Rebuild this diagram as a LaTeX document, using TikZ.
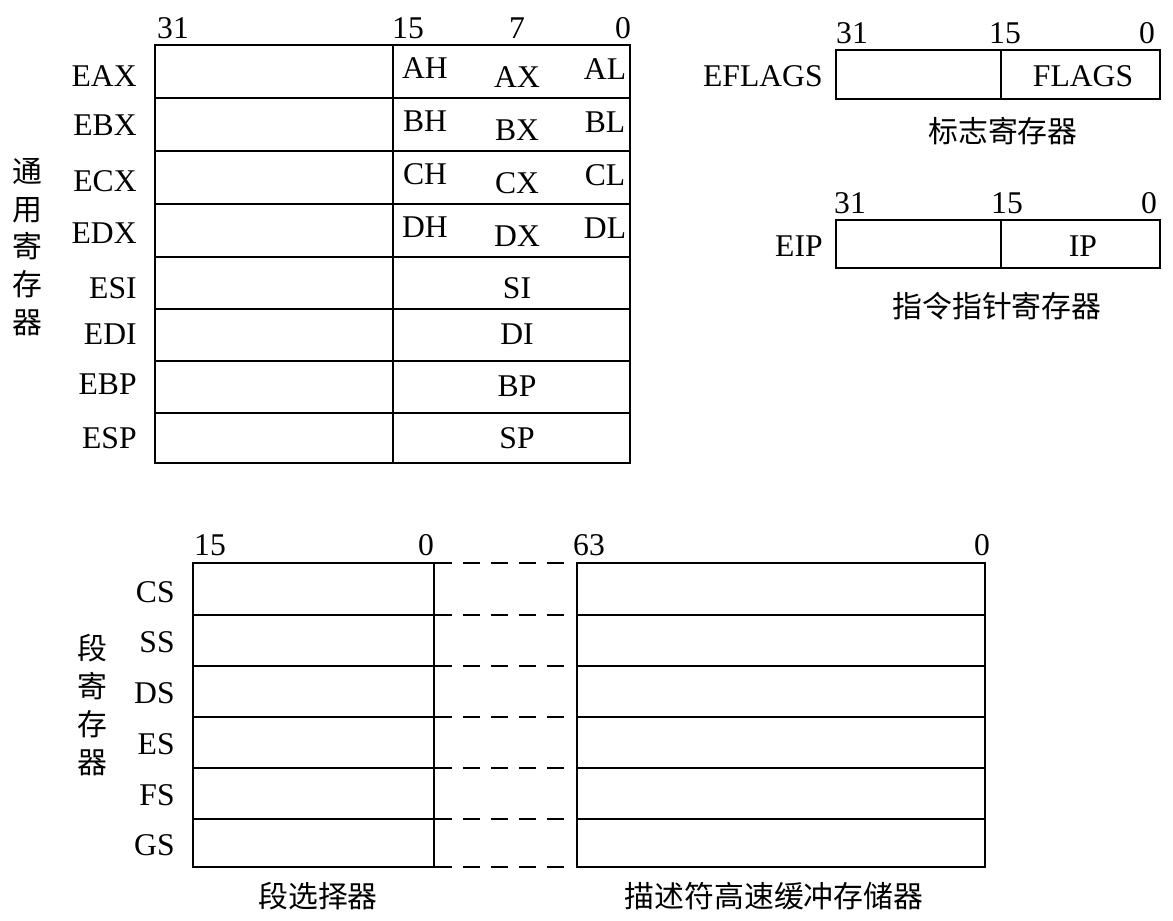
\documentclass[tikz,border=0pt]{standalone}
\usepackage{fontspec}
\setmainfont{Liberation Serif}
\newfontfamily\cjk{Noto Sans CJK SC}
\usetikzlibrary{positioning}

\tikzset{
  regbox/.style={line width=1.6pt},
  regline/.style={line width=1.2pt},
  dashlink/.style={line width=1pt, dash pattern=on 9.7pt off 6.3pt},
  bitnum/.style={inner sep=0pt},
  regname/.style={anchor=east, inner sep=0pt},
  cnlabel/.style={font=\cjk\fontsize{17}{21.5}\selectfont, inner sep=0pt, align=center},
}

\begin{document}
\begin{tikzpicture}[x=0.02cm, y=-0.02cm, font=\fontsize{18}{21}\selectfont]
    \useasboundingbox (0,0) rectangle (1173,920);

    % General registers
    \draw[regbox] (155,45) rectangle (630,463);
    \draw[regline] (393,45) -- (393,463);
    \foreach \y in {98,151,204,257,309,361,413}
        \draw[regline] (155,\y) -- (630,\y);

    \node[bitnum] (g31) at (173,28) {31};
    \node[bitnum] (g15) at (408,28) {15};
    \node[bitnum] (g7)  at (517,28) {7};
    \node[bitnum] (g0)  at (623,28) {0};

    \foreach \name/\y in {EAX/76,EBX/125,ECX/181,EDX/233,ESI/288,EDI/334,EBP/384,ESP/438}
        \node[regname] (r\name) at (137,\y) {\name};

    % 8-bit and 16-bit parts
    \foreach \h/\x/\l/\y in {AH/AX/AL/71, BH/BX/BL/124, CH/CX/CL/177, DH/DX/DL/230} {
        \node[bitnum] (p\h) at (425,\y-3) {\h};
        \node[bitnum] (p\x) at (517,\y+6) {\x};
        \node[bitnum] (p\l) at (605,\y-2) {\l};
    }
    \foreach \name/\y in {SI/288,DI/334,BP/386,SP/438}
        \node[bitnum] (p\name) at (517,\y) {\name};

    \node[cnlabel] (gentitle) at (27,247) {通\\用\\寄\\存\\器};

    % Flags register
    \draw[regbox] (836,50) rectangle (1160,99);
    \draw[regline] (1001,50) -- (1001,99);
    \node[bitnum] (f31) at (852,33) {31};
    \node[bitnum] (f15) at (1005,33) {15};
    \node[bitnum] (f0)  at (1147,33) {0};
    \node[regname] (rEFLAGS) at (823,76) {EFLAGS};
    \node[bitnum] (pFLAGS) at (1083,76) {FLAGS};
    \node[cnlabel] (flagtitle) at (1003,131) {标志寄存器};

    % Instruction pointer
    \draw[regbox] (836,220) rectangle (1160,268);
    \draw[regline] (1001,220) -- (1001,268);
    \node[bitnum] (i31) at (850,203) {31};
    \node[bitnum] (i15) at (1007,203) {15};
    \node[bitnum] (i0)  at (1149,203) {0};
    \node[regname] (rEIP) at (823,246) {EIP};
    \node[bitnum] (pIP) at (1083,246) {IP};
    \node[cnlabel] (iptitle) at (997,306) {指令指针寄存器};

    % Segment registers: selector and descriptor cache
    \draw[regbox] (193,563) rectangle (434,867);
    \draw[regbox] (577,563) rectangle (985,867);
    \foreach \y in {615,666,717,768,819} {
        \draw[regbox] (193,\y) -- (434,\y);
        \draw[regbox] (577,\y) -- (985,\y);
    }
    \foreach \y in {563,615,666,717,768,819,867} {
        \coordinate (sel\y) at (435,\y);
        \coordinate (des\y) at (576,\y);
        \draw[dashlink] (sel\y) -- (des\y);
    }

    \node[bitnum] (s15) at (210,545) {15};
    \node[bitnum] (s0)  at (426,545) {0};
    \node[bitnum] (d63) at (589,545) {63};
    \node[bitnum] (d0)  at (982,545) {0};

    \foreach \name/\y in {CS/592,SS/642,DS/693,ES/744,FS/795,GS/845}
        \node[regname] (r\name) at (175,\y) {\name};

    \node[cnlabel] (segtitle) at (92,705) {段\\寄\\存\\器};
    \node[cnlabel] (seltitle) at (318,896) {段选择器};
    \node[cnlabel] (destitle) at (774,896) {描述符高速缓冲存储器};
\end{tikzpicture}
\end{document}
